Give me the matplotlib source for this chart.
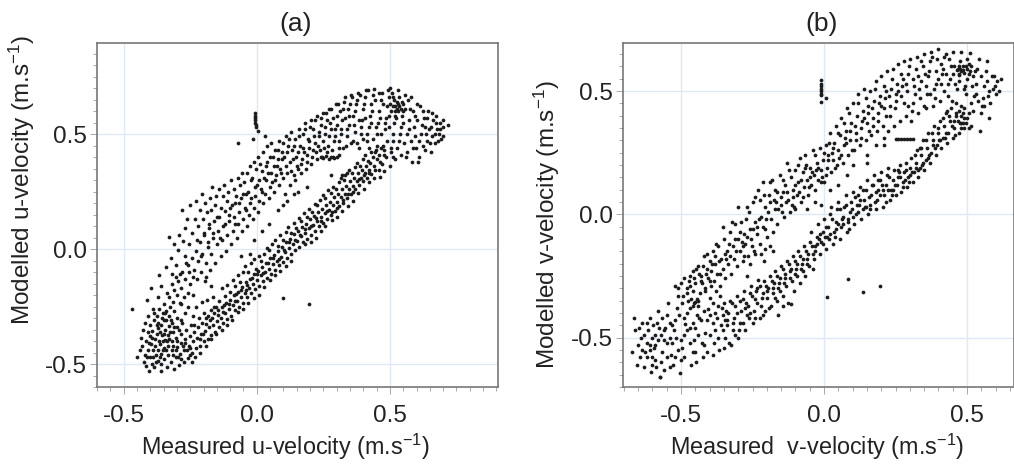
import matplotlib; matplotlib.use("Agg")
import matplotlib.pyplot as plt
import numpy as np
from matplotlib.ticker import MultipleLocator
plt.rcParams.update({"font.family":["Liberation Sans","DejaVu Sans"],"mathtext.fontset":"custom","mathtext.rm":"Liberation Sans","mathtext.default":"regular"})

tick_vals=[-0.5,0.0,0.5]
tick_labs=["-0.5","0.0","0.5"]

# panel a: (measured, modelled)
u_blob=[(-.47,-.26),(-.44,-.44),(-.45,-.47),(-.43,-.42),(-.425,-.49),(-.42,-.46),(-.415,-.51),(-.41,-.44),(-.405,-.53),(-.40,-.47),(-.405,-.41),(-.41,-.36),
(-.395,-.50),(-.39,-.44),(-.395,-.385),(-.40,-.33),(-.385,-.515),(-.38,-.46),(-.383,-.42),(-.375,-.37),(-.385,-.31),(-.37,-.485),(-.37,-.44),(-.368,-.40),
(-.372,-.345),(-.373,-.29),(-.36,-.53),(-.36,-.50),(-.358,-.455),(-.362,-.415),(-.355,-.375),(-.36,-.33),(-.352,-.28),(-.348,-.48),(-.35,-.43),(-.345,-.395),
(-.345,-.35),(-.342,-.31),(-.338,-.515),(-.335,-.46),(-.332,-.42),(-.335,-.375),(-.33,-.335),(-.33,-.29),(-.325,-.25),(-.322,-.49),(-.32,-.44),(-.318,-.40),
(-.315,-.36),(-.318,-.32),(-.312,-.27),(-.31,-.52),(-.305,-.47),(-.30,-.425),(-.302,-.385),(-.298,-.34),(-.30,-.30),(-.293,-.505),(-.288,-.455),(-.285,-.41),
(-.283,-.37),(-.28,-.32),(-.275,-.49),(-.272,-.44),(-.27,-.39),(-.265,-.35),(-.26,-.475),(-.255,-.42),(-.25,-.38),(-.415,-.40),(-.402,-.38),(-.39,-.47),
(-.378,-.49),(-.365,-.47),(-.352,-.40),(-.34,-.44),(-.328,-.39),(-.316,-.46),(-.305,-.44),(-.295,-.47),(-.285,-.48),(-.37,-.32),(-.35,-.31),(-.345,-.28),
(-.433,-.385),(-.427,-.35),(-.418,-.32),(-.412,-.47),(-.408,-.29),(-.398,-.415),(-.392,-.355),(-.387,-.28),(-.381,-.39),(-.376,-.33),(-.369,-.26),(-.364,-.36),(-.357,-.30),
(-.354,-.44),(-.347,-.37),(-.339,-.27),(-.337,-.40),(-.327,-.36),(-.323,-.31),(-.313,-.42),(-.309,-.34),(-.299,-.40),(-.291,-.35),(-.286,-.31),(-.278,-.42),(-.268,-.41),(-.262,-.44),(-.252,-.46),(-.244,-.49)]
u_lower=[(-.245,-.45),(-.24,-.40),(-.235,-.36),(-.23,-.43),(-.225,-.385),(-.22,-.34),(-.215,-.42),(-.21,-.37),(-.205,-.32),(-.20,-.40),(-.195,-.355),(-.19,-.30),
(-.185,-.39),(-.18,-.34),(-.175,-.31),(-.17,-.375),(-.165,-.33),(-.16,-.28),(-.155,-.36),(-.15,-.315),(-.145,-.265),(-.14,-.34),(-.135,-.30),(-.13,-.25),
(-.125,-.32),(-.12,-.28),(-.115,-.235),(-.11,-.305),(-.105,-.26),(-.10,-.22),(-.095,-.29),(-.09,-.245),(-.085,-.20),(-.08,-.265),(-.075,-.225),(-.07,-.185),
(-.065,-.25),(-.06,-.21),(-.055,-.165),(-.05,-.235),(-.045,-.19),(-.04,-.145),(-.035,-.21),(-.03,-.17),(-.025,-.13),(-.02,-.19),(-.015,-.15),(-.01,-.11),
(-.005,-.175),(0,-.135),(.005,-.095),(.01,-.16),(.015,-.115),(.02,-.08),(.025,-.14),(.03,-.10),(.035,-.06),(.04,-.125),(.045,-.085),(.05,-.04),
(.055,-.11),(.06,-.065),(.065,-.025),(.07,-.09),(.075,-.05),(.08,-.01),(.085,-.07),(.09,-.035),(.095,.01),(.10,-.055),(.105,-.015),(.11,.03),
(.115,-.04),(.12,.005),(.125,.045),(.13,-.02),(.135,.02),(.14,.065),(.145,-.005),(.15,.035),(.155,.08),(.16,.01),(.165,.055),(.17,.095),
(.175,.03),(.18,.07),(.185,.11),(.19,.045),(.195,.09),(.20,.13),(.205,.06),(.21,.105),(.215,.145),(.22,.08),(.225,.12),(.23,.16),
(.235,.10),(.24,.14),(.245,.175),(.25,.115),(.255,.155),(.26,.19),(.265,.13),(.27,.17),(.275,.205),(.28,.15),(.285,.19),(.29,.225),
(.295,.165),(.30,.205),(.305,.24),(.31,.185),(.315,.225),(.32,.26),(.325,.20),(.33,.24),(.335,.275),(.34,.22),(.345,.26),(.35,.295),
(.355,.24),(.36,.275),(.365,.31),(.37,.26),(.375,.295),(.38,.33),(.385,.28),(.39,.31),(.395,.345),(.40,.295),(.405,.33),(.41,.36),
(.415,.31),(.42,.345),(.425,.375),(.43,.325),(.44,.36),(.45,.39),(.46,.345),(.47,.37),(.485,.40),(.50,.36),(.51,.40)]
u_lower2=[(-.283,-.24),(-.271,-.28),(-.258,-.25),(-.247,-.33),(-.238,-.29),(-.229,-.25),(-.218,-.30),(-.207,-.23),(-.198,-.28),(-.186,-.22),(-.173,-.265),(-.163,-.21),(-.152,-.25),(-.142,-.225),(-.131,-.17),
(-.121,-.205),(-.112,-.155),(-.101,-.185),(-.091,-.135),(-.083,-.16),(-.071,-.115),(-.064,-.145),(-.052,-.10),(-.043,-.075),(-.033,-.10),(-.022,-.06),(-.012,-.045),(-.003,-.085),(.007,-.03),(.017,-.05),
(.028,-.02),(.037,.005),(.047,-.005),(.057,.02),(.068,.04),(.078,.015),(.088,.06),(.098,.04),(.108,.075),(.118,.095),(.128,.07),(.138,.115),(.148,.09),(.158,.135),(.168,.12),(.178,.155),
(.188,.14),(.198,.175),(.208,.16),(.218,.195),(.228,.19),(.238,.215),(.248,.235),(.258,.22),(.268,.255),(.278,.245),(.288,.27),(.298,.26),(.308,.29),(.318,.31),(.328,.30),(.338,.33),(.348,.345),(.358,.33),
(.368,.355),(.378,.375),(.388,.36),(.398,.39),(.408,.41),(.418,.385),(.428,.42),(.438,.40),(.448,.43),(.458,.41),(.468,.44),(.478,.43),(.258,.10),(.282,.125),(.302,.14),(.322,.165),(.342,.185),(.362,.21),(.382,.245),
(.402,.26),(.422,.29),(.442,.31),(.462,.315),(.478,.34),(.183,.02),(.203,.03),(.223,.05),(.243,.08),(.128,-.05),(.108,-.075),(.088,-.095),(.068,-.115),(.048,-.135),(.028,-.165),(.008,-.20),(-.012,-.215),
(-.032,-.235),(-.052,-.26),(-.072,-.275),(-.092,-.31),(-.112,-.33),(-.132,-.35),(-.152,-.37),(-.172,-.39),(-.192,-.42),(-.212,-.45),(-.232,-.47),(-.252,-.43),(-.202,-.37),(-.182,-.29),(-.162,-.25),(-.122,-.245),(-.082,-.225),(-.042,-.18)]
u_lower3=[(-.237,-.33),(-.214,-.39),(-.191,-.325),(-.169,-.30),(-.147,-.285),(-.126,-.275),(-.103,-.24),(-.078,-.195),(-.058,-.18),(-.037,-.155),(-.018,-.125),(.002,-.11),(.022,-.105),(.043,-.06),(.062,-.04),
(.083,-.045),(.102,-.005),(.122,.03),(.142,.04),(.162,.06),(.183,.085),(.202,.10),(.222,.135),(.242,.12),(.262,.165),(.283,.16),(.303,.18),(.323,.215),(.343,.24),(.363,.25),(.383,.305),(.403,.32),(.423,.33),(.443,.345),(.463,.38)]
u_upper=[(-.33,-.21),(-.32,-.15),(-.315,-.23),(-.31,-.18),(-.305,-.12),(-.30,-.20),(-.295,-.14),(-.29,-.235),(-.285,-.17),(-.28,-.10),(-.275,-.21),(-.27,-.13),(-.265,-.06),
(-.26,-.19),(-.255,-.10),(-.25,-.15),(-.245,-.04),(-.24,-.20),(-.235,-.09),(-.23,-.01),(-.225,-.13),(-.22,-.05),(-.215,.03),(-.21,-.10),(-.205,-.02),(-.20,.06),
(-.195,-.14),(-.19,-.06),(-.185,.01),(-.18,.09),(-.175,-.09),(-.17,-.02),(-.165,.05),(-.16,.12),(-.155,-.06),(-.15,.02),(-.145,.08),(-.14,.14),(-.135,-.03),
(-.13,.04),(-.125,.10),(-.12,.165),(-.115,-.01),(-.11,.06),(-.105,.12),(-.10,.18),(-.095,.02),(-.09,.08),(-.085,.14),(-.08,.20),(-.075,.05),(-.07,.11),
(-.065,.16),(-.06,.22),(-.055,.08),(-.05,.13),(-.045,.18),(-.04,.24),(-.035,.10),(-.03,.15),(-.025,.20),(-.02,.30),(-.015,.13),(-.01,.18),(-.005,.23),
(0,.28),(.005,.16),(.01,.21),(.015,.26),(.02,.34),(.025,.20),(.03,.24),(.035,.30),(.04,.38),(.045,.22),(.05,.27),(.055,.33),(.06,.40),
(.065,.25),(.07,.30),(.075,.36),(.08,.43),(.085,.28),(.09,.33),(.095,.39),(.10,.46),(.105,.24),(.11,.36),(.115,.42),(.12,.48),(.125,.28),
(.13,.34),(.135,.39),(.14,.45),(.145,.30),(.15,.36),(.155,.42),(.16,.49),(.165,.33),(.17,.39),(.175,.44),(.18,.52),(.185,.35),(.19,.41),
(.195,.47),(.20,.53),(.205,.37),(.21,.43),(.215,.49),(.22,.56),(.225,.39),(.23,.45),(.235,.51),(.24,.57),(.245,.40),(.25,.47),(.255,.53),
(.26,.59),(.265,.42),(.27,.49),(.275,.55),(.28,.61),(.285,.40),(.29,.47),(.295,.52),(.30,.58),(.305,.63),(.31,.44),(.315,.50),(.32,.56),
(.325,.61),(.33,.66),(.335,.45),(.34,.52),(.345,.58),(.35,.63),(.355,.67),(.36,.47),(.365,.54),(.37,.60),(.375,.65),(.38,.68),(.385,.44),
(.39,.50),(.395,.56),(.40,.61),(.405,.66),(.41,.69),(.415,.47),(.42,.53),(.425,.58),(.43,.63),(.435,.67),(.44,.695),(.445,.42),(.45,.50),
(.455,.55),(.46,.60),(.465,.65),(.47,.68),(.475,.45),(.48,.52),(.485,.57),(.49,.62),(.495,.66),(.50,.70),(.505,.44),(.51,.50),(.515,.55),
(.52,.60),(.525,.64),(.53,.69),(.535,.47),(.54,.53),(.545,.58),(.55,.63),(.555,.67),(.56,.40),(.565,.50),(.57,.56),(.575,.61),(.58,.66),
(.585,.44),(.59,.53),(.595,.58),(.60,.63),(.605,.38),(.61,.47),(.62,.54),(.625,.60),(.63,.43),(.635,.50),(.64,.57),(.65,.46),(.655,.53),
(.66,.59),(.67,.50),(.675,.55),(.68,.47),(.69,.52),(.70,.56),(.72,.54),(.70,.49),(.51,.62),(.52,.62),(.525,.61),(.53,.63),(.535,.62),
(.54,.61),(.55,.60),(.515,.65),(.505,.60),(.50,.63),(.53,.60),(.545,.64),(.52,.58),(.51,.66),(.495,.58)]
u_upper2=[(-.412,-.22),(-.397,-.17),(-.388,-.26),(-.371,-.21),(-.366,-.115),(-.358,-.16),(-.349,-.24),(-.341,-.08),(-.337,-.19),(-.328,.052),(-.322,-.04),(-.318,-.11),(-.309,.021),(-.302,-.07),(-.297,-.005),
(-.293,.06),(-.287,-.11),(-.279,.17),(-.276,.035),(-.271,-.03),(-.268,.09),(-.262,.13),(-.258,-.07),(-.253,.02),(-.249,.19),(-.243,.07),(-.238,-.12),(-.233,.13),(-.228,.21),(-.224,.04),(-.219,.10),(-.214,.17),
(-.211,-.03),(-.206,.24),(-.203,.13),(-.197,.07),(-.193,.20),(-.188,.16),(-.183,.03),(-.179,.11),(-.176,.22),(-.172,.17),(-.167,.27),(-.163,.07),(-.158,.19),(-.153,.23),(-.148,.14),(-.143,.26),(-.138,.05),
(-.133,.18),(-.128,.23),(-.122,.28),(-.118,.11),(-.113,.21),(-.107,.25),(-.103,.15),(-.098,.30),(-.092,.19),(-.087,.26),(-.082,.11),(-.077,.23),(-.072,.31),(-.067,.20),(-.062,.28),(-.057,.33),(-.052,.24),
(-.047,.29),(-.042,.17),(-.037,.33),(-.032,.25),(-.027,.36),(-.022,.22),(-.017,.31),(-.012,.38),(-.007,.27),(-.002,.35),(.003,.40),(.008,.30),(.013,.37),(.018,.25),(.023,.42),(.028,.31),(.033,.36),(.038,.45),
(.043,.33),(.048,.40),(.053,.46),(.058,.29),(.063,.36),(.068,.43),(.073,.32),(.078,.39),(.083,.47),(.088,.35),(.093,.42),(.098,.31),(.103,.40),(.108,.49),(.113,.33),(.118,.45),(.123,.38),(.128,.51),(.133,.43),
(.138,.32),(.143,.48),(.148,.40),(.153,.35),(.158,.52),(.163,.45),(.168,.37),(.173,.50),(.178,.42),(.183,.55),(.188,.38),(.193,.48),(.198,.44),(.203,.56),(.208,.40),(.213,.52),(.218,.46),(.223,.42),(.228,.58),
(.233,.49),(.238,.43),(.243,.54),(.248,.59),(.253,.44),(.258,.50),(.263,.56),(.268,.45),(.273,.61),(.278,.52),(.283,.43),(.288,.57),(.293,.49),(.298,.63),(.303,.54),(.308,.47),(.313,.60),(.318,.52),(.323,.44),
(.328,.64),(.333,.57),(.338,.49),(.343,.61),(.348,.54),(.353,.46),(.358,.66),(.363,.58),(.368,.51),(.373,.63),(.378,.46),(.383,.56),(.388,.67),(.393,.53),(.398,.48),(.403,.63),(.408,.57),(.413,.50),(.418,.69),
(.423,.44),(.428,.55),(.433,.60),(.438,.48),(.443,.65),(.448,.53),(.453,.45),(.458,.68),(.463,.57),(.468,.50),(.473,.63),(.478,.41),(.483,.55),(.488,.47),(.493,.69),(.498,.53),(.503,.42),(.508,.68),(.513,.47),
(.518,.39),(.523,.57),(.528,.44),(.533,.66),(.538,.50),(.543,.41),(.548,.55),(.553,.46),(.558,.61),(.563,.42),(.568,.65),(.573,.52),(.578,.47),(.583,.38),(.588,.60),(.593,.49),(.598,.44),(.603,.56),(.608,.40),
(.613,.62),(.618,.50),(.623,.45),(.628,.57),(.633,.53),(.638,.47),(.643,.60),(.648,.52),(.653,.42),(.658,.49),(.663,.56),(.668,.46),(.673,.58),(.678,.52),(.683,.50),(.688,.55),(.693,.48),(.698,.53)]
u_inner=[(-.19,-.12),(-.17,-.16),(-.06,-.03),(-.025,-.02),(-.01,.04),(.02,.08),(.045,.11),(.08,.17),(.10,.19),(.115,.21),(.14,.24),(.155,.25),(.19,.27),
(.24,.40),(.25,.395),(.26,.405),(.27,.39),(.28,.40),(.29,.395),(.30,.40),(.31,.41),(.28,.32),(.32,.32),(.33,.32)]
u_extra=[(.10,-.215),(.195,-.24),(-.07,.46),(-.015,.48),(.03,.49),(-.005,.59),(-.005,.58),(-.005,.57),(-.005,.56),(-.005,.55),(-.004,.54),(-.003,.53),(.003,.515)]

# panel b
v_blob=[(-.67,-.56),(-.655,-.61),(-.66,-.47),(-.665,-.42),(-.65,-.53),(-.645,-.58),(-.64,-.50),(-.635,-.44),(-.63,-.62),(-.625,-.56),(-.62,-.52),(-.615,-.47),(-.61,-.42),
(-.605,-.64),(-.60,-.58),(-.595,-.54),(-.59,-.49),(-.585,-.44),(-.58,-.39),(-.573,-.661),(-.57,-.60),(-.565,-.56),(-.56,-.51),(-.555,-.46),(-.55,-.41),(-.545,-.36),(-.54,-.62),
(-.535,-.57),(-.53,-.52),(-.525,-.47),(-.52,-.43),(-.515,-.38),(-.51,-.33),(-.505,-.645),(-.50,-.59),(-.495,-.54),(-.49,-.49),(-.485,-.445),(-.48,-.40),(-.475,-.35),(-.47,-.29),
(-.465,-.61),(-.46,-.56),(-.455,-.51),(-.45,-.46),(-.445,-.41),(-.44,-.37),(-.435,-.32),(-.43,-.27),(-.425,-.58),(-.42,-.53),(-.415,-.48),(-.41,-.43),(-.405,-.385),(-.40,-.34),
(-.395,-.29),(-.39,-.57),(-.385,-.52),(-.38,-.47),(-.375,-.42),(-.37,-.37),(-.365,-.33),(-.46,-.37),(-.455,-.36),(-.45,-.355),(-.445,-.345),(-.44,-.35),(-.47,-.38),(-.465,-.345),
(-.60,-.50),(-.59,-.53),(-.58,-.51),(-.57,-.49),(-.56,-.47),(-.55,-.52),(-.54,-.50),(-.53,-.45),(-.51,-.55),(-.50,-.51),(-.49,-.42),(-.48,-.47),(-.47,-.52),(-.46,-.44),(-.44,-.49),(-.43,-.43),
(-.42,-.39),(-.61,-.55),(-.62,-.58),(-.60,-.61),(-.59,-.59),(-.52,-.58),(-.45,-.56),(-.40,-.49),(-.39,-.44),(-.38,-.40),(-.37,-.50),(-.36,-.45),(-.35,-.54),
(-.648,-.46),(-.638,-.55),(-.628,-.49),(-.618,-.44),(-.608,-.53),(-.598,-.45),(-.588,-.62),(-.578,-.46),(-.568,-.42),(-.558,-.63),(-.548,-.58),(-.538,-.44),(-.528,-.61),(-.518,-.50),(-.508,-.41),(-.498,-.36),
(-.488,-.58),(-.478,-.32),(-.468,-.46),(-.458,-.31),(-.448,-.60),(-.438,-.42),(-.428,-.52),(-.418,-.31),(-.408,-.56),(-.398,-.41),(-.388,-.36),(-.378,-.31),(-.368,-.55),(-.358,-.38),(-.348,-.43)]
v_lower=[(-.355,-.41),(-.35,-.36),(-.345,-.50),(-.34,-.45),(-.335,-.40),(-.33,-.35),(-.325,-.53),(-.32,-.47),(-.315,-.42),(-.31,-.37),(-.305,-.33),(-.30,-.50),(-.295,-.44),(-.29,-.39),
(-.285,-.345),(-.28,-.31),(-.275,-.47),(-.27,-.41),(-.265,-.37),(-.26,-.32),(-.255,-.29),(-.25,-.44),(-.245,-.39),(-.24,-.345),(-.235,-.30),(-.23,-.265),(-.225,-.42),(-.22,-.37),
(-.215,-.32),(-.21,-.27),(-.205,-.39),(-.20,-.34),(-.195,-.30),(-.19,-.25),(-.185,-.37),(-.18,-.32),(-.175,-.28),(-.17,-.23),(-.165,-.35),(-.16,-.30),(-.155,-.26),(-.15,-.21),
(-.145,-.33),(-.14,-.28),(-.135,-.24),(-.13,-.19),(-.125,-.36),(-.12,-.26),(-.115,-.22),(-.11,-.17),(-.105,-.31),(-.10,-.24),(-.095,-.20),(-.09,-.15),(-.085,-.28),(-.08,-.22),
(-.075,-.18),(-.07,-.13),(-.065,-.25),(-.06,-.20),(-.055,-.16),(-.05,-.11),(-.045,-.07),(-.04,-.22),(-.035,-.18),(-.03,-.13),(-.025,-.09),(-.02,-.04),(-.015,-.16),(-.01,-.11),
(-.005,-.07),(0,-.02),(.005,-.14),(.01,-.09),(.015,-.05),(.02,0),(.025,.03),(.03,-.12),(.035,-.07),(.04,-.03),(.045,.02),(.05,.05),(.055,-.10),(.06,-.05),(.065,-.01),
(.07,.03),(.075,.08),(.08,-.07),(.085,-.03),(.09,.01),(.095,.05),(.10,.09),(.105,-.04),(.11,0),(.115,.04),(.12,.08),(.125,.11),(.13,-.02),(.135,.02),(.14,.06),(.145,.10),
(.15,.14),(.155,0),(.16,.04),(.165,.08),(.17,.12),(.175,.16),(.18,.02),(.185,.06),(.19,.10),(.195,.14),(.20,.17),(.205,.03),(.21,.08),(.215,.12),(.22,.16),(.225,.19),
(.23,.06),(.235,.10),(.24,.14),(.245,.18),(.25,.08),(.255,.12),(.26,.15),(.265,.20),(.27,.09),(.275,.13),(.28,.17),(.285,.21),(.29,.11),(.295,.15),(.30,.19),(.305,.23),
(.31,.13),(.315,.17),(.32,.21),(.325,.26),(.33,.15),(.335,.19),(.34,.24),(.345,.30),(.35,.18),(.355,.22),(.36,.27),(.365,.33),(.37,.21),(.375,.25),(.38,.30),(.385,.36),
(.39,.24),(.395,.28),(.40,.33),(.405,.38),(.41,.27),(.415,.31),(.42,.36),(.425,.41),(.43,.29),(.435,.33),(.44,.38),(.445,.43),(.45,.31),(.455,.35),(.46,.40),(.47,.33),(.48,.37),(.49,.35),(.50,.39)]
v_lower2=[(-.352,-.47),(-.343,-.39),(-.333,-.52),(-.323,-.36),(-.313,-.49),(-.303,-.40),(-.293,-.35),(-.283,-.44),(-.273,-.36),(-.263,-.42),(-.253,-.33),(-.243,-.42),(-.233,-.36),(-.223,-.29),(-.213,-.41),(-.203,-.29),
(-.193,-.38),(-.183,-.27),(-.173,-.34),(-.163,-.25),(-.153,-.31),(-.143,-.22),(-.133,-.29),(-.123,-.20),(-.113,-.27),(-.103,-.19),(-.093,-.25),(-.083,-.17),(-.073,-.23),(-.063,-.15),(-.053,-.21),(-.043,-.13),
(-.033,-.15),(-.023,-.12),(-.013,-.08),(-.003,-.12),(.007,-.05),(.017,-.10),(.027,-.02),(.037,-.09),(.047,-.04),(.057,.02),(.067,-.04),(.077,.04),(.087,-.06),(.097,.02),(.107,.07),(.117,.01),(.127,.06),(.137,.10),
(.147,.03),(.157,.07),(.167,.12),(.177,.05),(.187,.14),(.197,.08),(.207,.10),(.217,.05),(.227,.15),(.237,.08),(.247,.12),(.257,.18),(.267,.15),(.277,.11),(.287,.18),(.297,.13),(.307,.17),(.317,.24),(.327,.18),
(.337,.27),(.347,.21),(.357,.30),(.367,.24),(.377,.33),(.387,.27),(.397,.35),(.407,.30),(.417,.39),(.427,.33),(.437,.40),(.447,.36),(.457,.32),(.467,.38),(.477,.35),(.487,.41),(.497,.37),(.507,.35)]
v_lower3=[(-.338,-.43),(-.318,-.44),(-.298,-.47),(-.278,-.38),(-.258,-.40),(-.238,-.31),(-.218,-.34),(-.198,-.31),(-.178,-.30),(-.158,-.28),(-.138,-.26),(-.118,-.23),(-.098,-.22),(-.078,-.20),(-.058,-.18),(-.038,-.16),
(-.018,-.10),(.002,-.09),(.022,-.08),(.042,-.06),(.062,-.02),(.082,-.02),(.102,-.01),(.122,.04),(.142,.03),(.162,.02),(.182,.09),(.202,.12),(.222,.10),(.242,.10),(.262,.17),(.282,.14),(.302,.16),(.322,.19),(.342,.20),(.362,.23),(.382,.28),(.402,.30),(.422,.31)]
v_upper=[(-.52,-.29),(-.50,-.28),(-.49,-.26),(-.48,-.30),(-.47,-.25),(-.46,-.23),(-.45,-.28),(-.44,-.21),(-.43,-.25),(-.42,-.17),(-.415,-.30),(-.41,-.22),(-.405,-.26),(-.40,-.19),(-.395,-.23),(-.39,-.15),
(-.385,-.27),(-.38,-.20),(-.375,-.24),(-.37,-.13),(-.365,-.29),(-.36,-.18),(-.355,-.22),(-.35,-.10),(-.345,-.26),(-.34,-.15),(-.335,-.20),(-.33,-.07),(-.325,-.24),(-.32,-.13),(-.315,-.18),(-.31,-.04),
(-.305,-.21),(-.30,-.10),(-.295,-.15),(-.29,-.03),(-.285,-.19),(-.28,-.08),(-.275,-.12),(-.27,.03),(-.265,-.17),(-.26,-.06),(-.255,-.10),(-.25,.05),(-.245,-.15),(-.24,-.03),(-.235,-.08),(-.23,.10),
(-.225,-.12),(-.22,-.01),(-.215,-.05),(-.21,.08),(-.205,.03),(-.20,-.09),(-.195,.01),(-.19,.13),(-.185,-.02),(-.18,-.07),(-.175,.06),(-.17,.10),(-.165,-.04),(-.16,.02),(-.155,.16),(-.15,.04),
(-.145,.09),(-.14,-.01),(-.135,.12),(-.13,.21),(-.125,.06),(-.12,.01),(-.115,.15),(-.11,.10),(-.105,.03),(-.10,.18),(-.095,.08),(-.09,.13),(-.085,.23),(-.08,.05),(-.075,.17),(-.07,.11),
(-.065,.24),(-.06,.14),(-.055,.08),(-.05,.19),(-.045,.12),(-.04,.26),(-.035,.16),(-.03,.10),(-.025,.21),(-.02,.14),(-.015,.27),(-.01,.18),(-.005,.22),(0,.13),(.005,.28),(.01,.19),(.015,.24),
(.02,.33),(.025,.17),(.03,.22),(.035,.29),(.04,.36),(.045,.20),(.05,.26),(.055,.32),(.06,.39),(.065,.21),(.07,.28),(.075,.34),(.08,.43),(.085,.24),(.09,.30),(.095,.37),(.10,.45),
(.105,.26),(.11,.33),(.115,.40),(.12,.49),(.125,.28),(.13,.35),(.135,.42),(.14,.51),(.145,.30),(.15,.37),(.155,.44),(.16,.50),(.165,.32),(.17,.39),(.175,.46),(.18,.54),(.185,.34),(.19,.41),
(.195,.48),(.20,.56),(.205,.36),(.21,.43),(.215,.50),(.22,.58),(.225,.34),(.23,.44),(.235,.51),(.24,.59),(.245,.36),(.25,.46),(.255,.53),(.26,.61),(.265,.38),(.27,.48),(.275,.55),(.28,.62),
(.285,.40),(.29,.50),(.295,.57),(.30,.63),(.305,.38),(.31,.45),(.315,.52),(.32,.59),(.325,.64),(.33,.41),(.335,.47),(.34,.54),(.345,.60),(.35,.65),(.355,.43),(.36,.49),(.365,.56),(.37,.62),
(.375,.66),(.38,.44),(.385,.51),(.39,.58),(.395,.63),(.40,.67),(.405,.46),(.41,.53),(.415,.59),(.42,.64),(.425,.65),(.43,.42),(.435,.48),(.44,.55),(.445,.60),(.45,.66),(.455,.38),(.46,.45),
(.465,.51),(.47,.57),(.475,.62),(.48,.66),(.485,.37),(.49,.43),(.495,.49),(.50,.55),(.505,.61),(.51,.655),(.515,.36),(.52,.42),(.525,.48),(.53,.53),(.535,.59),(.54,.63),(.545,.34),(.55,.41),
(.555,.47),(.56,.52),(.565,.58),(.57,.62),(.575,.39),(.58,.45),(.59,.51),(.595,.56),(.60,.49),(.605,.54),(.61,.50),(.617,.55),(.47,.60),(.475,.59),(.48,.58),(.485,.585),(.49,.575),(.495,.60),
(.50,.59),(.505,.57),(.51,.58),(.465,.585),(.455,.60),(.47,.565),(.485,.60),(.515,.60),(.52,.56),(.47,.42),(.48,.40),(.49,.39),(.475,.37),(.46,.41)]
v_upper2=[(-.51,-.30),(-.493,-.33),(-.474,-.27),(-.456,-.26),(-.437,-.24),(-.423,-.21),(-.408,-.16),(-.393,-.20),(-.378,-.12),(-.363,-.24),(-.352,-.05),(-.343,-.18),(-.331,-.12),(-.323,-.03),(-.312,-.10),(-.302,.03),(-.293,-.07),
(-.283,-.13),(-.273,-.02),(-.263,.01),(-.253,-.13),(-.243,.07),(-.233,-.05),(-.223,.06),(-.213,.13),(-.203,-.02),(-.193,.08),(-.183,.14),(-.173,.02),(-.163,.09),(-.152,.07),(-.143,.14),(-.133,.05),(-.122,.18),
(-.112,.04),(-.102,.12),(-.092,.20),(-.082,.14),(-.072,.07),(-.062,.20),(-.052,.11),(-.042,.17),(-.032,.24),(-.022,.19),(-.012,.13),(-.002,.25),(.008,.16),(.018,.29),(.028,.25),(.038,.19),(.048,.33),(.058,.24),
(.068,.37),(.078,.29),(.088,.41),(.098,.26),(.108,.36),(.118,.45),(.128,.31),(.138,.39),(.148,.47),(.158,.34),(.168,.43),(.178,.51),(.188,.38),(.198,.44),(.208,.52),(.218,.40),(.228,.48),(.238,.55),(.248,.43),
(.258,.50),(.268,.57),(.278,.45),(.288,.53),(.298,.60),(.308,.42),(.318,.49),(.328,.56),(.338,.62),(.348,.44),(.358,.52),(.368,.58),(.378,.64),(.388,.47),(.398,.55),(.408,.61),(.418,.50),(.428,.57),(.438,.63),
(.448,.46),(.458,.53),(.468,.59),(.478,.44),(.488,.51),(.498,.63),(.508,.41),(.518,.52),(.528,.58),(.538,.46),(.548,.56),(.558,.44),(.568,.54),(.578,.50),(.588,.56),(.598,.52)]
v_upper3=[(-.447,-.22),(-.428,-.28),(-.412,-.24),(-.398,-.27),(-.382,-.17),(-.368,-.19),(-.348,-.16),(-.328,-.17),(-.308,-.15),(-.288,-.11),(-.268,-.09),(-.248,-.06),(-.228,-.02),(-.208,-.06),(-.188,.05),(-.168,.05),
(-.148,.01),(-.128,.09),(-.108,.07),(-.088,.09),(-.068,.19),(-.048,.15),(-.028,.18),(-.008,.15),(.012,.22),(.032,.27),(.052,.23),(.072,.31),(.092,.34),(.112,.30),(.132,.38),(.152,.41),(.172,.36),(.192,.45),(.212,.47),
(.232,.40),(.252,.49),(.272,.52),(.292,.44),(.312,.55),(.332,.51),(.352,.57),(.372,.49),(.392,.53),(.412,.57),(.432,.53),(.452,.57),(.472,.54),(.492,.52),(.512,.45),(.532,.49),(.552,.44),(.572,.48)]
v_inner=[(-.28,-.17),(-.27,-.25),(-.26,-.20),(-.24,-.16),(-.22,-.16),(-.21,-.19),(-.205,-.14),(-.19,-.13),(-.18,-.15),(-.10,.02),(-.06,.02),(-.03,.05),(-.01,.04),(.02,.10),(.05,.12),(.08,.16),(.10,.20),
(.15,.21),(.15,.24),(.18,.28),(.21,.31),(.21,.28),(.25,.306),(.26,.306),(.27,.306),(.28,.306),(.29,.306),(.30,.306),(.31,.306),(.34,.27)]
v_extra=[(.01,-.335),(.083,-.264),(.136,-.313),(.197,-.289),(-.573,-.661),(-.16,-.41),(-.115,-.365),(-.145,-.37),(-.01,.545),(-.01,.53),(-.01,.52),(-.01,.51),(-.01,.50),(-.01,.49),(-.01,.484),(-.01,.457),(.008,.473)]

def scatter_panel(ax,groups,xlim,ylim,title,title_x,xlab,xlab_x,ylab,ylab_pos):
    for g in groups:
        pts=np.array(g)
        ax.plot(pts[:,0],pts[:,1],"o",color="#1c1c1c",ms=2.7,mew=0,zorder=3)
    ax.set_xlim(xlim); ax.set_ylim(ylim)
    ax.set_xticks(tick_vals); ax.set_xticklabels(tick_labs)
    ax.set_yticks(tick_vals); ax.set_yticklabels(tick_labs)
    ax.xaxis.set_minor_locator(MultipleLocator(0.05)); ax.yaxis.set_minor_locator(MultipleLocator(0.05))
    ax.tick_params(which="minor",color="#a8a8a8",width=0.7,length=2.8)
    ax.tick_params(which="major",labelsize=17.5,color="#a8a8a8",width=0.7,length=5,labelcolor="#222222")
    ax.tick_params(axis="x",which="major",pad=8)
    ax.tick_params(axis="y",which="major",pad=2.5)
    ax.grid(True,which="major",color="#dfe8f5",lw=1,zorder=0)
    for s in ax.spines.values(): s.set_color("#777777"); s.set_linewidth(1.2)
    ax.set_title(title,fontsize=19,pad=9,color="#222222",x=title_x)
    ax.set_xlabel(xlab,fontsize=16.8,color="#222222",va="center")
    ax.set_ylabel(ylab,fontsize=17.5,color="#222222",va="center")
    ax.xaxis.set_label_coords(xlab_x,-.174)
    ax.yaxis.set_label_coords(*ylab_pos)

W,H=1014,465
fig=plt.figure(figsize=(W/100,H/100),dpi=100)
ax1=fig.add_axes([97/W,1-387/H,401/W,344/H])
ax2=fig.add_axes([623/W,1-387/H,391/W,344/H])
scatter_panel(ax1,[u_blob,u_lower,u_lower2,u_lower3,u_upper,u_upper2,u_inner,u_extra],(-0.60,0.906),(-0.60,0.896),"(a)",.496,
    "Measured u-velocity (m.s$^{-1}$)",.469,"Modelled u-velocity (m.s$^{-1}$)",(-.187,.602))
scatter_panel(ax2,[v_blob,v_lower,v_lower2,v_lower3,v_upper,v_upper2,v_upper3,v_inner,v_extra],(-0.703,0.664),(-0.70,0.695),"(b)",.509,
    "Measured  v-velocity (m.s$^{-1}$)",.497,"Modelled v-velocity (m.s$^{-1}$)",(-.194,.471))
fig.savefig("out.png",dpi=100)
